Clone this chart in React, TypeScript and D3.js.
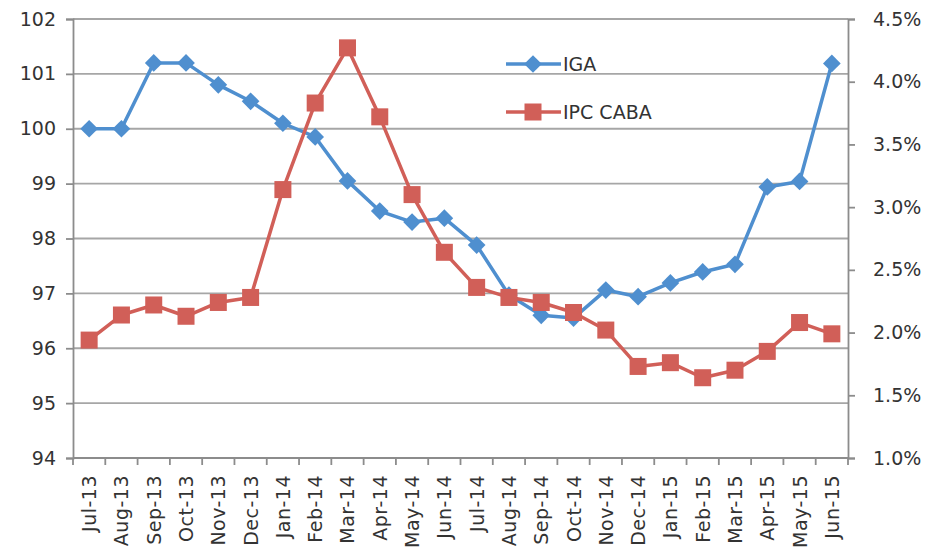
import React, { useEffect, useRef } from 'react';
import * as d3 from 'd3';

const months = [
  'Jul-13', 'Aug-13', 'Sep-13', 'Oct-13', 'Nov-13', 'Dec-13',
  'Jan-14', 'Feb-14', 'Mar-14', 'Apr-14', 'May-14', 'Jun-14',
  'Jul-14', 'Aug-14', 'Sep-14', 'Oct-14', 'Nov-14', 'Dec-14',
  'Jan-15', 'Feb-15', 'Mar-15', 'Apr-15', 'May-15', 'Jun-15',
];

// IGA index (left axis)
const iga = [
  100.0, 100.0, 101.2, 101.2, 100.8, 100.5,
  100.1, 99.85, 99.05, 98.5, 98.3, 98.37,
  97.88, 96.97, 96.6, 96.55, 97.06, 96.94,
  97.19, 97.39, 97.53, 98.94, 99.04, 101.19,
];

// IPC CABA monthly % (right axis)
const ipcCaba = [
  1.94, 2.14, 2.22, 2.13, 2.24, 2.28,
  3.14, 3.83, 4.27, 3.72, 3.10, 2.64,
  2.36, 2.28, 2.24, 2.16, 2.02, 1.73,
  1.76, 1.64, 1.70, 1.85, 2.08, 1.99,
];

const leftTicks = [94, 95, 96, 97, 98, 99, 100, 101, 102];
const rightTicks = [1.0, 1.5, 2.0, 2.5, 3.0, 3.5, 4.0, 4.5];

const W = 928;
const H = 551;

const App: React.FC = () => {
  const svgRef = useRef<SVGSVGElement>(null);

  useEffect(() => {
    if (!svgRef.current) return;
    const svg = d3.select(svgRef.current);
    svg.selectAll('*').remove();

    const left = 73, right = 848, top = 19, bottom = 458;
    const blue = '#4f8fcf';
    const red = '#d15f58';
    const axisColor = '#8c8c8c';
    const textColor = '#333';
    const font = 'DejaVu Sans, Verdana, sans-serif';

    const x = d3.scaleBand().domain(months).range([left, right]);
    const yL = d3.scaleLinear().domain([94, 102]).range([bottom, top]);
    const yR = d3.scaleLinear().domain([1.0, 4.5]).range([bottom, top]);
    const cx = (m: string) => (x(m) as number) + x.bandwidth() / 2;

    // gridlines from left axis
    svg.append('g')
      .selectAll('line')
      .data(leftTicks.slice(1))
      .join('line')
      .attr('x1', left).attr('x2', right)
      .attr('y1', d => yL(d)).attr('y2', d => yL(d))
      .attr('stroke', '#a6a6a6')
      .attr('stroke-width', 1.8);

    // left axis
    const gL = svg.append('g').attr('transform', `translate(${left},0)`)
      .call(d3.axisLeft(yL).tickValues(leftTicks).tickSize(7).tickPadding(10).tickFormat(d3.format('d')));
    gL.select('.domain').attr('stroke', axisColor).attr('stroke-width', 1.8);
    gL.selectAll('.tick line').attr('stroke', axisColor).attr('stroke-width', 1.8);
    gL.selectAll('.tick text').attr('fill', textColor).attr('font-size', 19).attr('font-family', font);

    // right axis
    const gR = svg.append('g').attr('transform', `translate(${right},0)`)
      .call(d3.axisRight(yR).tickValues(rightTicks).tickSize(7).tickPadding(18).tickFormat(d => `${(+d).toFixed(1)}%`));
    gR.select('.domain').attr('stroke', axisColor).attr('stroke-width', 1.8);
    gR.selectAll('.tick line').attr('stroke', axisColor).attr('stroke-width', 1.8);
    gR.selectAll('.tick text').attr('fill', textColor).attr('font-size', 19).attr('font-family', font);

    // bottom axis
    const gB = svg.append('g').attr('transform', `translate(0,${bottom})`);
    gB.append('line')
      .attr('x1', left).attr('x2', right)
      .attr('stroke', axisColor).attr('stroke-width', 1.8);
    gB.selectAll('line.tk')
      .data(months.concat(['__end']))
      .join('line')
      .attr('class', 'tk')
      .attr('x1', (d, i) => left + i * x.step())
      .attr('x2', (d, i) => left + i * x.step())
      .attr('y1', 0).attr('y2', 7)
      .attr('stroke', axisColor).attr('stroke-width', 1.8);
    gB.selectAll('text')
      .data(months)
      .join('text')
      .attr('transform', d => `translate(${cx(d) + 7},${17}) rotate(-90)`)
      .attr('text-anchor', 'end')
      .attr('fill', textColor)
      .attr('font-size', 19)
      .attr('letter-spacing', 0.5)
      .attr('font-family', font)
      .text(d => d);

    // IGA line
    const lineL = d3.line<number>().x((d, i) => cx(months[i])).y(d => yL(d));
    svg.append('path')
      .datum(iga)
      .attr('d', lineL)
      .attr('fill', 'none')
      .attr('stroke', blue)
      .attr('stroke-width', 3.5)
      .attr('stroke-linejoin', 'round');

    const diamond = d3.symbol().type(d3.symbolDiamond2).size(200);
    svg.append('g')
      .selectAll('path')
      .data(iga)
      .join('path')
      .attr('d', diamond)
      .attr('transform', (d, i) => `translate(${cx(months[i])},${yL(d)})`)
      .attr('fill', blue);

    // IPC CABA line
    const lineR = d3.line<number>().x((d, i) => cx(months[i])).y(d => yR(d));
    svg.append('path')
      .datum(ipcCaba)
      .attr('d', lineR)
      .attr('fill', 'none')
      .attr('stroke', red)
      .attr('stroke-width', 3.5)
      .attr('stroke-linejoin', 'round');

    svg.append('g')
      .selectAll('rect')
      .data(ipcCaba)
      .join('rect')
      .attr('x', (d, i) => cx(months[i]) - 8.5)
      .attr('y', d => yR(d) - 8.5)
      .attr('width', 17).attr('height', 17)
      .attr('fill', red);

    // legend
    const legend = svg.append('g');
    const items = [
      { name: 'IGA', color: blue, shape: 'diamond', y: 64 },
      { name: 'IPC CABA', color: red, shape: 'square', y: 112 },
    ];
    items.forEach(it => {
      legend.append('line')
        .attr('x1', 506).attr('x2', 561)
        .attr('y1', it.y).attr('y2', it.y)
        .attr('stroke', it.color).attr('stroke-width', 3.5);
      if (it.shape === 'diamond') {
        legend.append('path')
          .attr('d', diamond)
          .attr('transform', `translate(533,${it.y})`)
          .attr('fill', it.color);
      } else {
        legend.append('rect')
          .attr('x', 524.5).attr('y', it.y - 8.5)
          .attr('width', 17).attr('height', 17)
          .attr('fill', it.color);
      }
      legend.append('text')
        .attr('x', 563).attr('y', it.y + 7)
        .attr('fill', textColor)
        .attr('font-size', 19)
        .attr('font-family', font)
        .text(it.name);
    });
  }, []);

  return (
    <svg
      ref={svgRef}
      width={W}
      height={H}
      style={{ position: 'absolute', left: 0, top: 0, background: '#fff' }}
    />
  );
};

export default App;
